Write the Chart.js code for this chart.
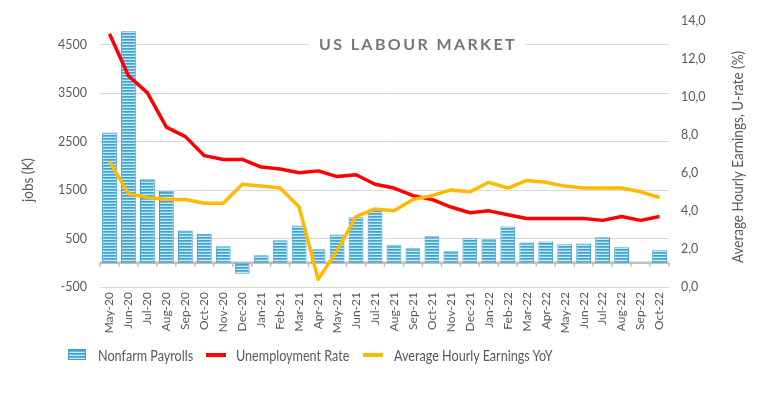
<!DOCTYPE html>
<html>
<head>
<meta charset="utf-8">
<script src="https://cdn.jsdelivr.net/npm/chart.js@4.4.1/dist/chart.umd.min.js"></script>
<style>
  html, body { margin: 0; padding: 0; background: #fff; }
  #wrap { position: relative; width: 767px; height: 394px; }
  #c { position: absolute; left: 0; top: 0; }
  .lg { position: absolute; font-family: Lato, sans-serif; font-size: 15px; color: #595959; line-height: 18px; top: 346px; white-space: nowrap; transform: scaleX(0.84); transform-origin: left center; }
  .sw { position: absolute; }
</style>
</head>
<body>
<div id="wrap">
  <canvas id="c" width="767" height="394"></canvas>
  <div class="sw" id="swBar" style="left:68px; top:349px; width:18px; height:11px;"></div>
  <div class="lg" style="left:98px;">Nonfarm Payrolls</div>
  <div class="sw" style="left:206px; top:353px; width:20px; height:4px; background:#ff0000;"></div>
  <div class="lg" style="left:236px;">Unemployment Rate</div>
  <div class="sw" style="left:363px; top:353px; width:20px; height:4px; background:#ffb900;"></div>
  <div class="lg" style="left:394px;">Average Hourly Earnings YoY</div>
</div>
<script>
const months = ['May-20','Jun-20','Jul-20','Aug-20','Sep-20','Oct-20','Nov-20','Dec-20',
  'Jan-21','Feb-21','Mar-21','Apr-21','May-21','Jun-21','Jul-21','Aug-21','Sep-21','Oct-21','Nov-21','Dec-21',
  'Jan-22','Feb-22','Mar-22','Apr-22','May-22','Jun-22','Jul-22','Aug-22','Sep-22','Oct-22'];
const nonfarmPayrolls = [2690, 4780, 1725, 1485, 665, 600, 340, -225, 155, 465, 770, 280, 585, 940, 1070,
  360, 300, 545, 240, 505, 485, 750, 420, 440, 380, 400, 525, 320, null, 260];
const unemploymentRate = [13.3, 11.1, 10.2, 8.4, 7.9, 6.9, 6.7, 6.7, 6.3, 6.2, 6.0, 6.1, 5.8, 5.9, 5.4,
  5.2, 4.8, 4.6, 4.2, 3.9, 4.0, 3.8, 3.6, 3.6, 3.6, 3.6, 3.5, 3.7, 3.5, 3.7];
const avgHourlyEarningsYoY = [6.6, 4.9, 4.7, 4.6, 4.6, 4.4, 4.4, 5.4, 5.3, 5.2, 4.2, 0.4, 1.9, 3.7, 4.1,
  4.0, 4.6, 4.8, 5.1, 5.0, 5.5, 5.2, 5.6, 5.5, 5.3, 5.2, 5.2, 5.2, 5.0, 4.7];
const leftTicks = [-500, 500, 1500, 2500, 3500, 4500];
const rightTicks = [0, 2, 4, 6, 8, 10, 12, 14];

const stripeRows = ['#3fa2cc', '#62b8dd', '#c9e8f5'];
function makePattern() {
  const pc = document.createElement('canvas');
  pc.width = 4; pc.height = stripeRows.length;
  const g = pc.getContext('2d');
  stripeRows.forEach((col, i) => { g.fillStyle = col; g.fillRect(0, i, 4, 1); });
  return document.getElementById('c').getContext('2d').createPattern(pc, 'repeat');
}
document.getElementById('swBar').style.background =
  'repeating-linear-gradient(to bottom,' + stripeRows.map((c,i)=>c+' '+i+'px,'+c+' '+(i+1)+'px').join(',') + ')';
document.getElementById('swBar').style.border = '1px solid #3f9fc8';
document.getElementById('swBar').style.boxSizing = 'border-box';

const FONT = 'Lato, sans-serif';
const TXT = '#595959';

const decor = {
  id: 'decor',
  beforeDatasetsDraw(chart) {
    const ctx = chart.ctx, ca = chart.chartArea;
    const y0 = chart.scales.y.getPixelForValue(0);
    const xs = chart.scales.x;
    const step = xs.getPixelForValue(1) - xs.getPixelForValue(0);
    ctx.save();
    ctx.strokeStyle = '#bfbfbf';
    ctx.lineWidth = 2.5;
    ctx.beginPath(); ctx.moveTo(ca.left, y0); ctx.lineTo(ca.right, y0); ctx.stroke();
    ctx.lineWidth = 1.5;
    for (let i = 0; i <= months.length; i++) {
      const x = xs.getPixelForValue(0) - step / 2 + i * step;
      ctx.beginPath(); ctx.moveTo(x, y0); ctx.lineTo(x, y0 + 4); ctx.stroke();
    }
    ctx.restore();
  },
  afterDraw(chart) {
    const ctx = chart.ctx;
    ctx.save();
    // Title
    ctx.font = 'bold 16px ' + FONT;
    try { ctx.letterSpacing = '2.4px'; } catch (e) {}
    const title = 'US LABOUR MARKET';
    const w = ctx.measureText(title).width;
    const cx = 417;
    ctx.fillStyle = '#ffffff';
    ctx.fillRect(cx - w / 2 - 9, 34, w + 18, 20);
    ctx.fillStyle = '#767676';
    ctx.textAlign = 'left';
    ctx.textBaseline = 'middle';
    ctx.fillText(title, cx - w / 2 + 1, 45);
    try { ctx.letterSpacing = '0px'; } catch (e) {}
    // Axis titles
    ctx.font = '15px ' + FONT;
    ctx.fillStyle = TXT;
    ctx.textAlign = 'center';
    ctx.textBaseline = 'middle';
    ctx.save(); ctx.translate(28, 180); ctx.rotate(-Math.PI / 2); ctx.scale(0.9, 1); ctx.fillText('jobs (K)', 0, 0); ctx.restore();
    ctx.save(); ctx.translate(738, 157); ctx.rotate(-Math.PI / 2); ctx.scale(0.9, 1); ctx.fillText('Average Hourly Earnings, U-rate (%)', 0, 0); ctx.restore();
    ctx.restore();
  }
};

const chart = new Chart(document.getElementById('c'), {
  data: {
    labels: months,
    datasets: [
      { type: 'line', label: 'Average Hourly Earnings YoY', data: avgHourlyEarningsYoY, yAxisID: 'y1',
        borderColor: '#ffb900', borderWidth: 3.5, pointRadius: 0, tension: 0, order: 0, borderJoinStyle: 'round' },
      { type: 'line', label: 'Unemployment Rate', data: unemploymentRate, yAxisID: 'y1',
        borderColor: '#ff0000', borderWidth: 3.5, pointRadius: 0, tension: 0, order: 1, borderJoinStyle: 'round' },
      { type: 'bar', label: 'Nonfarm Payrolls', data: nonfarmPayrolls, yAxisID: 'y',
        backgroundColor: makePattern(), borderColor: '#3f9fc8', borderWidth: 1, borderSkipped: false,
        categoryPercentage: 1, barPercentage: 0.78, order: 2 }
    ]
  },
  options: {
    responsive: false,
    animation: false,
    events: [],
    layout: { padding: { top: 17, left: 0, right: 0, bottom: 0 } },
    plugins: { legend: { display: false }, tooltip: { enabled: false }, title: { display: false } },
    scales: {
      x: {
        type: 'category', offset: true,
        grid: { display: false, drawTicks: false },
        border: { display: false },
        ticks: { minRotation: 90, maxRotation: 90, autoSkip: false, padding: 5,
          color: TXT, font: { family: FONT, size: 12 } },
        afterFit(s) { s.height = 107; }
      },
      y: {
        position: 'left', min: -500, max: 5000,
        afterBuildTicks(s) { s.ticks = leftTicks.map(v => ({ value: v })); },
        grid: { color: '#d9d9d9', lineWidth: 1, drawTicks: false },
        border: { display: false },
        ticks: { padding: 13, color: TXT, font: { family: FONT, size: 12.5 },
          callback: v => String(v) },
        afterFit(s) { s.width = 100; }
      },
      y1: {
        position: 'right', min: 0, max: 14,
        afterBuildTicks(s) { s.ticks = rightTicks.map(v => ({ value: v })); },
        grid: { drawOnChartArea: false, drawTicks: false },
        border: { display: false },
        ticks: { padding: 12, color: TXT, font: { family: FONT, size: 12.5 },
          callback: v => Number(v).toFixed(1).replace('.', ',') },
        afterFit(s) { s.width = 98; }
      }
    }
  },
  plugins: [decor]
});
</script>
</body>
</html>
